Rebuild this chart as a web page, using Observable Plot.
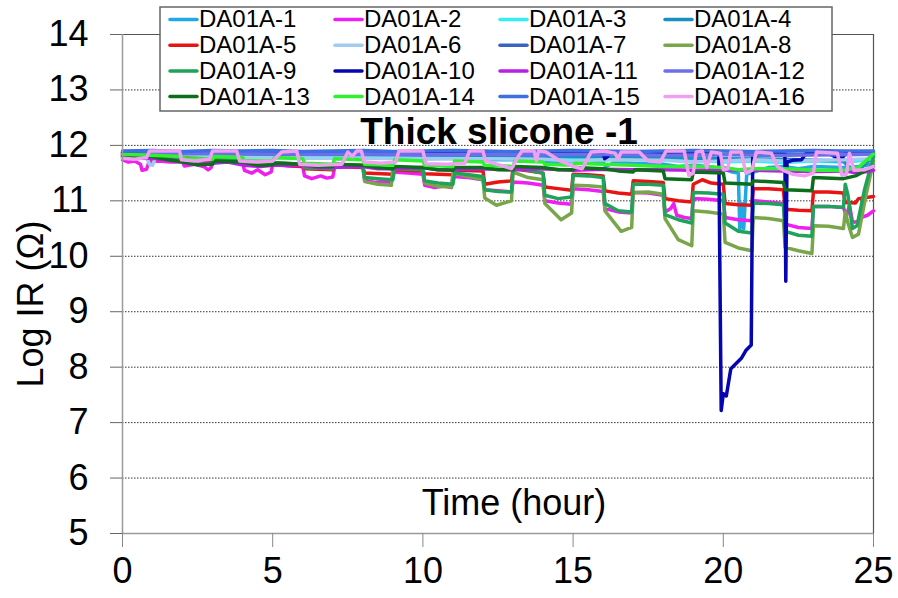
<!DOCTYPE html>
<html>
<head>
<meta charset="utf-8">
<script src="https://cdn.jsdelivr.net/npm/d3@7"></script>
<script src="https://cdn.jsdelivr.net/npm/@observablehq/plot@0.6"></script>
<style>
  body { margin: 0; background: #fff; }
  #chart { width: 898px; height: 598px; }
</style>
</head>
<body>
<div id="chart"></div>
<script>
// Insulation resistance (log10 Ω) of 16 test coupons over a 25-hour run.
// Each series is a list of [hour, log IR] readings.

const DA01A_1 = [[0,11.84],[1,11.83],[2,11.82],[3,11.83],[4,11.8],[5,11.81],[6,11.8],[7,11.79],[8,11.78],[9,11.78],[10,11.76],[11,11.77],[12,11.74],[13,11.74],[14,11.72],[14.5,11.7],[15,11.72],[16,11.7],[16.08,11.62],[16.25,11.66],[16.4,11.7],[17,11.68],[18,11.66],[18.5,11.62],[19,11.64],[19.5,11.62],[20,11.58],[20.3,11.52],[20.5,11.5],[20.55,10.46],[20.62,10.95],[20.68,10.5],[20.78,11.48],[21,11.52],[21.5,11.6],[22,11.62],[22.5,11.58],[23,11.62],[24,11.6],[24.5,11.62],[25,11.66]];

const DA01A_2 = [[0,11.74],[0.2,11.7],[0.4,11.72],[0.6,11.66],[0.65,11.55],[0.8,11.57],[0.88,11.7],[1.2,11.72],[1.6,11.7],[2.0,11.7],[2.06,11.63],[2.4,11.66],[2.7,11.62],[2.85,11.56],[2.95,11.6],[3.0,11.71],[3.5,11.72],[4.0,11.68],[4.06,11.55],[4.3,11.5],[4.5,11.56],[4.75,11.47],[4.95,11.52],[5.0,11.66],[5.5,11.63],[6.0,11.62],[6.06,11.45],[6.3,11.4],[6.6,11.45],[6.8,11.41],[7.0,11.43],[7.06,11.6],[7.5,11.64],[8.0,11.62],[8.06,11.37],[8.4,11.33],[8.7,11.35],[8.95,11.33],[9.0,11.52],[9.5,11.5],[10.0,11.48],[10.06,11.28],[10.4,11.24],[10.7,11.27],[10.95,11.24],[11.0,11.44],[11.5,11.42],[12.0,11.38],[12.06,11.2],[12.5,11.18],[12.95,11.16],[13.0,11.34],[13.5,11.32],[14.0,11.28],[14.06,11.0],[14.5,10.96],[14.95,10.94],[15.0,11.22],[15.5,11.2],[16.0,11.17],[16.06,10.86],[16.5,10.8],[16.95,10.78],[17.0,11.15],[17.5,11.14],[18.0,11.1],[18.06,10.8],[18.25,10.86],[18.35,10.95],[18.45,10.74],[18.7,10.7],[18.95,10.68],[19.0,11.04],[19.5,11.03],[20.0,11.0],[20.06,10.7],[20.5,10.66],[20.95,10.64],[21.0,11.0],[21.5,10.98],[22.0,10.95],[22.06,10.58],[22.5,10.52],[22.95,10.5],[23.0,10.9],[23.5,10.9],[24.0,10.88],[24.1,10.72],[24.2,10.92],[24.3,10.62],[24.45,10.62],[24.6,10.7],[24.8,10.74],[25.0,10.82]];

const DA01A_3 = [[0,11.84],[1.5,11.83],[3,11.84],[4.5,11.82],[6,11.81],[7.5,11.82],[9,11.8],[10.5,11.79],[12,11.8],[13.5,11.78],[15,11.77],[16.1,11.74],[16.3,11.78],[17.5,11.76],[19,11.73],[20,11.7],[21,11.72],[22,11.69],[23,11.72],[24,11.7],[25,11.74]];

const DA01A_4 = [[0,11.86],[3,11.85],[6,11.84],[9,11.83],[12,11.82],[15,11.8],[18,11.78],[20,11.76],[22,11.75],[24,11.72],[24.3,11.52],[24.6,11.6],[25,11.8]];

const DA01A_5 = [[0,11.78],[2,11.74],[4,11.7],[6,11.62],[6.06,11.58],[7,11.56],[7.06,11.62],[8,11.6],[8.06,11.5],[9,11.48],[9.06,11.56],[10,11.54],[10.06,11.49],[11,11.47],[11.06,11.55],[12,11.54],[12.06,11.3],[12.5,11.34],[12.95,11.36],[13.0,11.58],[13.5,11.54],[14,11.5],[14.06,11.25],[14.5,11.22],[14.95,11.19],[15,11.48],[15.5,11.47],[16,11.45],[16.06,11.18],[16.5,11.14],[16.95,11.12],[17,11.36],[17.5,11.35],[18,11.33],[18.06,11.04],[18.5,11.0],[18.95,10.98],[19,11.3],[19.3,11.38],[19.6,11.32],[20,11.3],[20.06,10.95],[20.5,10.93],[20.95,10.92],[21,11.22],[21.5,11.22],[22,11.2],[22.06,10.85],[22.5,10.83],[22.95,10.82],[23,11.16],[23.5,11.16],[24,11.14],[24.06,10.97],[24.4,10.96],[24.5,11.04],[25,11.08]];

const DA01A_6 = [[0,11.8],[0.8,11.78],[0.9,11.66],[1.0,11.64],[1.1,11.78],[2,11.79],[4,11.78],[6,11.77],[8,11.77],[10,11.76],[12,11.76],[14,11.75],[15,11.72],[16,11.74],[18,11.73],[19,11.7],[20,11.72],[21,11.74],[22,11.72],[24,11.74],[25,11.76]];

const DA01A_7 = [[0,11.86],[1.5,11.88],[3,11.86],[4.5,11.87],[6,11.85],[7.5,11.87],[9,11.86],[10.5,11.84],[12,11.86],[13.5,11.85],[15,11.86],[16.5,11.84],[18,11.85],[19.5,11.83],[21,11.85],[22.5,11.84],[24,11.85],[25,11.86]];

const DA01A_8 = [[0,11.82],[2,11.78],[4,11.72],[6,11.66],[6.06,11.6],[7,11.58],[7.06,11.66],[8,11.64],[8.06,11.35],[8.5,11.3],[8.95,11.28],[9,11.6],[10,11.58],[10.06,11.32],[10.5,11.26],[10.95,11.25],[11,11.5],[12,11.38],[12.06,11.05],[12.45,10.92],[12.95,11.0],[13,11.52],[13.5,11.42],[14,11.38],[14.06,10.95],[14.6,10.66],[14.95,10.78],[15,11.28],[15.5,11.27],[16,11.25],[16.06,10.82],[16.6,10.45],[16.95,10.52],[17,11.15],[17.5,11.16],[18,11.12],[18.06,10.68],[18.5,10.3],[18.95,10.19],[19,10.82],[19.5,10.8],[20,10.76],[20.06,10.25],[20.5,10.15],[20.95,10.1],[21,10.7],[21.5,10.68],[22,10.64],[22.06,10.16],[22.5,10.1],[22.95,10.05],[23,10.55],[23.5,10.54],[24,10.5],[24.06,10.8],[24.15,10.6],[24.3,10.34],[24.5,10.4],[24.75,11.1],[25,11.72]];

const DA01A_9 = [[0,11.8],[1,11.78],[2,11.76],[4,11.72],[6,11.66],[6.06,11.6],[7,11.58],[7.06,11.64],[8,11.62],[8.06,11.42],[8.5,11.4],[9,11.38],[9.06,11.58],[10,11.56],[10.06,11.36],[10.5,11.32],[11,11.3],[11.06,11.5],[12,11.44],[12.06,11.2],[12.5,11.17],[12.95,11.16],[13,11.6],[13.5,11.55],[14,11.5],[14.06,11.1],[14.5,11.04],[14.95,11.07],[15,11.46],[15.5,11.45],[16,11.42],[16.06,10.95],[16.5,10.82],[16.95,10.8],[17,11.3],[17.5,11.3],[18,11.28],[18.06,10.75],[18.5,10.66],[18.95,10.6],[19,11.15],[19.5,11.14],[20,11.12],[20.06,10.6],[20.5,10.45],[20.95,10.42],[21,10.96],[21.5,10.95],[22,10.93],[22.06,10.45],[22.5,10.38],[22.95,10.36],[23,10.9],[23.5,10.9],[24,10.88],[24.06,11.3],[24.15,11.1],[24.3,10.5],[24.45,10.55],[24.7,11.2],[25,11.8]];

const DA01A_10 = [[0,11.87],[4,11.88],[8,11.87],[12,11.87],[16,11.87],[16.05,11.76],[16.15,11.8],[16.2,11.87],[19.85,11.86],[19.93,7.22],[20.0,7.52],[20.1,7.48],[20.25,7.97],[20.6,8.16],[20.75,8.3],[20.93,8.4],[20.98,11.8],[21.5,11.86],[22.05,11.84],[22.08,9.55],[22.12,11.7],[22.3,11.73],[22.6,11.74],[22.75,11.85],[23.5,11.86],[23.7,11.8],[24,11.8],[24.1,11.88],[25,11.88]];

const DA01A_11 = [[0,11.8],[0.6,11.78],[1.2,11.76],[1.6,11.74],[2.06,11.7],[2.5,11.66],[3,11.68],[3.5,11.7],[4.06,11.64],[4.6,11.62],[5,11.64],[6,11.64],[6.5,11.6],[7,11.6],[8,11.62],[8.5,11.58],[9,11.58],[10,11.6],[10.5,11.56],[11,11.56],[12,11.58],[13,11.56],[14,11.58],[15,11.55],[16,11.57],[17,11.56],[18,11.56],[19,11.55],[20,11.56],[21,11.55],[22,11.54],[23,11.53],[24,11.54],[24.5,11.5],[25,11.55]];

const DA01A_12 = [[0,11.84],[2,11.86],[4,11.85],[6,11.84],[8,11.85],[10,11.83],[12,11.84],[14,11.83],[16,11.84],[18,11.82],[20,11.83],[22,11.82],[24,11.83],[25,11.84]];

const DA01A_13 = [[0,11.82],[1,11.8],[1.5,11.74],[2,11.7],[2.5,11.65],[3,11.66],[3.06,11.72],[4,11.7],[4.5,11.64],[5,11.65],[5.06,11.68],[6,11.66],[6.5,11.62],[7,11.62],[7.06,11.66],[8,11.64],[8.5,11.6],[9,11.58],[9.06,11.62],[10,11.6],[10.5,11.56],[11,11.55],[11.06,11.6],[12,11.6],[12.5,11.56],[13,11.56],[13.06,11.62],[14,11.6],[14.5,11.56],[15,11.56],[15.06,11.6],[16,11.58],[16.5,11.54],[17,11.52],[17.06,11.56],[18,11.54],[18.06,11.4],[18.95,11.38],[19,11.52],[20,11.5],[20.06,11.32],[20.95,11.3],[21,11.36],[22,11.33],[22.06,11.2],[22.95,11.18],[23,11.42],[24,11.4],[24.4,11.45],[25,11.62]];

const DA01A_14 = [[0,11.84],[2,11.8],[2.06,11.76],[3,11.75],[3.06,11.8],[4,11.78],[4.06,11.72],[5,11.72],[5.06,11.78],[6,11.76],[6.06,11.68],[7,11.66],[7.06,11.76],[8,11.74],[8.06,11.66],[9,11.64],[9.06,11.74],[10,11.72],[10.06,11.64],[11,11.62],[11.06,11.72],[12,11.7],[12.06,11.64],[13,11.62],[13.06,11.72],[14,11.7],[14.06,11.66],[15,11.64],[15.06,11.68],[16,11.66],[17,11.64],[18,11.62],[19,11.62],[20,11.6],[20.5,11.56],[21,11.58],[22,11.58],[23,11.55],[24,11.55],[24.5,11.6],[25,11.85]];

const DA01A_15 = [[0,11.9],[1,11.91],[2,11.89],[3,11.91],[4,11.9],[5,11.91],[6,11.89],[7,11.9],[8,11.91],[9,11.89],[10,11.9],[11,11.91],[12,11.9],[13,11.89],[14,11.9],[15,11.91],[16,11.9],[17,11.89],[18,11.9],[19,11.91],[20,11.9],[21,11.89],[22,11.9],[23,11.91],[24,11.9],[25,11.9]];

const DA01A_16 = [[0,11.77],[0.4,11.75],[0.8,11.78],[0.9,11.9],[1.9,11.9],[1.96,11.74],[2.4,11.72],[2.9,11.75],[3.0,11.9],[3.8,11.9],[3.9,11.72],[4.5,11.7],[5.0,11.72],[5.3,11.88],[5.8,11.9],[5.9,11.66],[6.5,11.64],[7.3,11.66],[7.5,11.88],[7.65,11.8],[7.8,11.9],[7.95,11.9],[8.05,11.7],[8.6,11.68],[9.1,11.7],[9.2,11.9],[10.0,11.9],[10.1,11.67],[10.8,11.66],[11.4,11.68],[11.55,11.9],[12.0,11.9],[12.08,11.72],[12.6,11.64],[12.95,11.58],[13.2,11.82],[13.3,11.9],[13.7,11.9],[13.78,11.72],[13.85,11.9],[14.1,11.88],[14.5,11.74],[15.0,11.62],[15.3,11.58],[15.6,11.88],[16.0,11.9],[16.4,11.86],[16.5,11.75],[16.6,11.88],[17.2,11.88],[17.5,11.72],[17.9,11.7],[18.1,11.9],[18.7,11.9],[18.85,11.46],[19.0,11.5],[19.1,11.88],[19.3,11.9],[19.45,11.6],[19.6,11.88],[19.9,11.86],[20.0,11.56],[20.15,11.58],[20.25,11.88],[20.6,11.88],[20.75,11.5],[20.95,11.55],[21.1,11.88],[21.6,11.86],[21.8,11.62],[22.0,11.55],[22.3,11.48],[22.7,11.45],[23.0,11.5],[23.1,11.88],[23.8,11.86],[23.95,11.46],[24.1,11.48],[24.2,11.86],[24.35,11.55],[24.7,11.56],[25.0,11.62]];

const seriesNames = ["DA01A-1","DA01A-2","DA01A-3","DA01A-4","DA01A-5","DA01A-6","DA01A-7","DA01A-8",
                     "DA01A-9","DA01A-10","DA01A-11","DA01A-12","DA01A-13","DA01A-14","DA01A-15","DA01A-16"];
const seriesValues = [DA01A_1, DA01A_2, DA01A_3, DA01A_4, DA01A_5, DA01A_6, DA01A_7, DA01A_8,
                      DA01A_9, DA01A_10, DA01A_11, DA01A_12, DA01A_13, DA01A_14, DA01A_15, DA01A_16];
const seriesColors = ["#22a8e3","#f01ef0","#33eef5","#1a90c0","#e81414","#a0ccf0","#3a64c4","#79a64b",
                      "#1fa35a","#0606b0","#b81ee6","#6e6eea","#0c6e1a","#30f030","#3e70e4","#f0a0f0"];

const xTicks = [0, 5, 10, 15, 20, 25];
const yTicks = [5, 6, 7, 8, 9, 10, 11, 12, 13, 14];
const gridLevels = [6, 7, 8, 9, 10, 11, 12, 13];

const titleText = "Thick slicone -1";
const xLabel = "Time (hour)";
const yLabel = "Log IR (Ω)";

const rows = seriesNames.flatMap((name, i) =>
  seriesValues[i].map(([hour, value]) => ({series: name, hour, value})));

const font = "'Liberation Sans', Arial, sans-serif";

const chart = Plot.plot({
  width: 898,
  height: 598,
  marginLeft: 122,
  marginRight: 25,
  marginTop: 34,
  marginBottom: 65,
  style: {fontFamily: font, fontSize: "36px", background: "#fff", color: "#000"},
  x: {domain: [0, 25]},
  y: {domain: [5, 14]},
  color: {domain: seriesNames, range: seriesColors},
  marks: [
    Plot.ruleY(gridLevels, {stroke: "#333", strokeWidth: 1, strokeDasharray: "1.5,1.5"}),
    Plot.ruleY([14], {stroke: "#555", strokeWidth: 1.2}),
    Plot.ruleX([25], {stroke: "#555", strokeWidth: 1.2}),
    Plot.line(rows, {x: "hour", y: "value", z: "series", stroke: "series",
                     strokeWidth: 3.5, strokeLinejoin: "round", strokeLinecap: "round"}),
    Plot.ruleX([0], {stroke: "#9a9a9a", strokeWidth: 1.5}),
    Plot.ruleY([5], {stroke: "#9a9a9a", strokeWidth: 1.5}),
    Plot.axisY({ticks: yTicks, tickSize: 12, tickPadding: 22, stroke: "#666", fill: "#000",
                fontSize: 36, label: null, tickFormat: d => String(d)}),
    Plot.axisX({ticks: xTicks, tickSize: 14, tickPadding: 10, stroke: "#888", fill: "#000",
                fontSize: 36, label: null, tickFormat: d => String(d)})
  ]
});

document.getElementById("chart").append(chart);

const svg = d3.select(chart);

// Title and axis titles
svg.append("text")
  .attr("x", 499).attr("y", 144)
  .attr("text-anchor", "middle")
  .attr("font-family", font)
  .attr("font-weight", 700)
  .attr("font-size", 37)
  .attr("fill", "#000")
  .text(titleText);

svg.append("text")
  .attr("x", 514).attr("y", 515)
  .attr("text-anchor", "middle")
  .attr("font-family", font)
  .attr("font-size", 36)
  .attr("fill", "#000")
  .text(xLabel);

svg.append("text")
  .attr("transform", "translate(43,304) rotate(-90)")
  .attr("text-anchor", "middle")
  .attr("font-family", font)
  .attr("font-size", 36)
  .attr("fill", "#000")
  .text(yLabel);

// Legend: four columns, four rows
const legend = svg.append("g");
legend.append("rect")
  .attr("x", 160).attr("y", 7)
  .attr("width", 672).attr("height", 104)
  .attr("fill", "#fff")
  .attr("stroke", "#666")
  .attr("stroke-width", 1.5);

const colX = [170, 335, 500, 665];
const rowY = [19.5, 45.2, 70.9, 96.6];
seriesNames.forEach((name, i) => {
  const cx = colX[i % 4];
  const cy = rowY[Math.floor(i / 4)];
  legend.append("line")
    .attr("x1", cx).attr("x2", cx + 27)
    .attr("y1", cy).attr("y2", cy)
    .attr("stroke", seriesColors[i])
    .attr("stroke-width", 3.5)
    .attr("stroke-linecap", "round");
  legend.append("text")
    .attr("x", cx + 29).attr("y", cy + 7.9)
    .attr("text-anchor", "start")
    .attr("font-family", font)
    .attr("font-size", 24)
    .attr("fill", "#000")
    .text(name);
});
</script>
</body>
</html>
